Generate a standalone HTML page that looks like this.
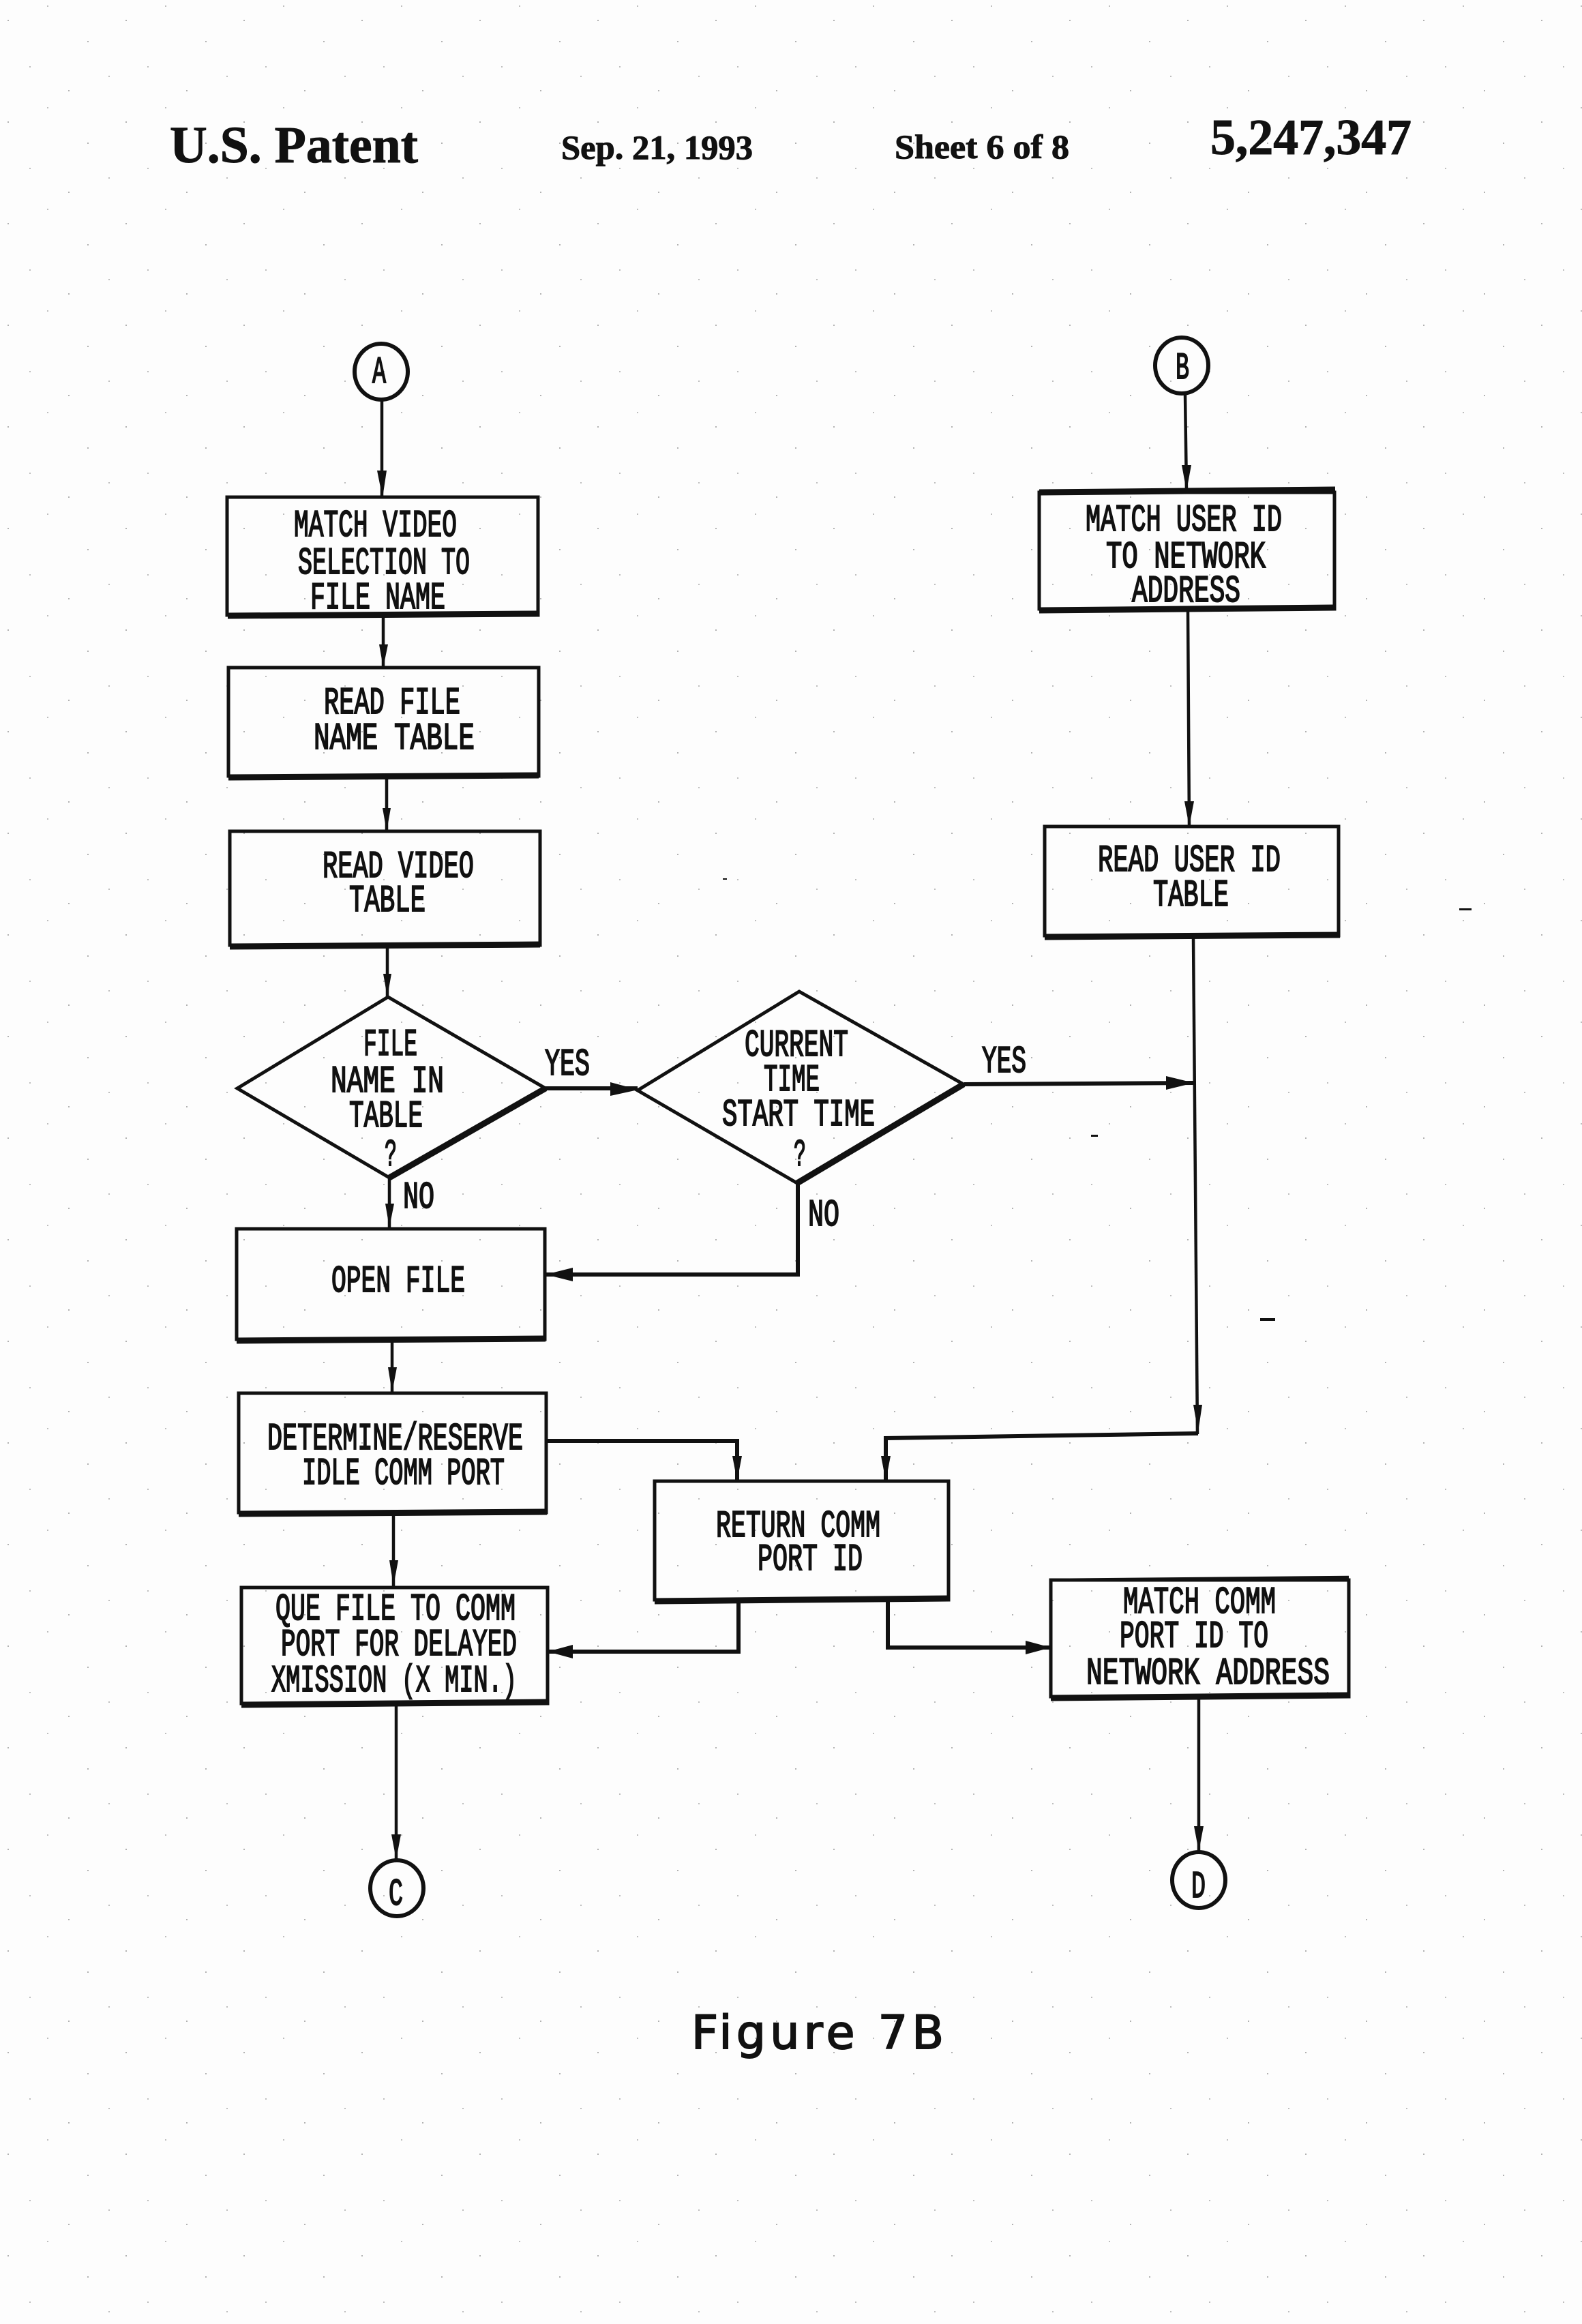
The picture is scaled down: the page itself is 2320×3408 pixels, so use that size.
<!DOCTYPE html>
<html><head><meta charset="utf-8"><style>
html,body{margin:0;padding:0;background:#fdfdfd}
svg{display:block}
.t{font-family:"Liberation Mono",monospace;font-size:56px;fill:#111;stroke:#111;stroke-width:2}
.s{font-family:"Liberation Serif",serif;font-weight:bold;fill:#111;stroke:#111;stroke-width:1}
.b{fill:none;stroke:#111;stroke-width:5}
.u{stroke:#111;stroke-width:9;fill:none}
.l{fill:none;stroke:#111;stroke-width:4.5}
.m{fill:none;stroke:#111;stroke-width:6}
.a{fill:#111}
</style></head><body>
<svg xmlns="http://www.w3.org/2000/svg" width="2320" height="3408" viewBox="0 0 2320 3408">
<defs><pattern id="n" width="173" height="149" patternUnits="userSpaceOnUse">
<circle cx="12" cy="30" r="1" fill="#999"/><circle cx="70" cy="9" r="1" fill="#aaa"/><circle cx="129" cy="61" r="1" fill="#999"/><circle cx="44" cy="98" r="1" fill="#aaa"/><circle cx="101" cy="133" r="1" fill="#999"/><circle cx="160" cy="112" r="1" fill="#aaa"/>
</pattern></defs>
<rect width="2320" height="3408" fill="#fdfdfd"/>
<rect width="2320" height="3408" fill="url(#n)"/>

<!-- header -->
<text class="s" x="249" y="238" font-size="76" textLength="364" lengthAdjust="spacingAndGlyphs">U.S. Patent</text>
<text class="s" x="823" y="233" font-size="50" textLength="281" lengthAdjust="spacingAndGlyphs">Sep. 21, 1993</text>
<text class="s" x="1312" y="232" font-size="50" textLength="256" lengthAdjust="spacingAndGlyphs">Sheet 6 of 8</text>
<text class="s" x="1775" y="226" font-size="74" textLength="295" lengthAdjust="spacingAndGlyphs">5,247,347</text>

<!-- connectors -->
<path class="l" d="M560 587V729M1738 578L1740 720M562 904V979M567 1140V1219M568 1388V1462M571 1727V1800M575 1964V2042M577 2219V2326M581 2499V2727M1758 2491V2715M1742 895L1744 1212"/>
<path class="l" d="M1750 1375L1756 2103"/>
<path class="m" d="M1757 2102L1299 2109V2172M802 2113H1081V2172"/>
<path class="m" d="M800 1596H935M1414 1590L1750 1588M1170 1735V1869H800"/>
<path class="m" d="M1083 2347V2422H803M1302 2347V2416H1541"/>

<!-- arrowheads -->
<g class="a">
<polygon points="553,690 567,690 561,730"/>
<polygon points="1733,682 1747,682 1740,720"/>
<polygon points="556,945 569,945 562,979"/>
<polygon points="561,1185 573,1185 567,1219"/>
<polygon points="562,1428 574,1428 568,1462"/>
<polygon points="565,1765 578,1765 571,1800"/>
<polygon points="569,2005 582,2005 575,2042"/>
<polygon points="571,2288 584,2288 577,2326"/>
<polygon points="574,2690 588,2690 581,2727"/>
<polygon points="1751,2678 1765,2678 1758,2715"/>
<polygon points="1737,1175 1751,1175 1744,1212"/>
<polygon points="1074,2135 1088,2135 1081,2172"/>
<polygon points="1292,2135 1306,2135 1299,2172"/>
<polygon points="1750,2060 1763,2060 1757,2100"/>
<polygon points="895,1587 895,1607 936,1598"/>
<polygon points="1710,1578 1710,1598 1751,1588"/>
<polygon points="800,1869 840,1859 840,1879"/>
<polygon points="803,2422 840,2412 840,2432"/>
<polygon points="1541,2416 1504,2406 1504,2426"/>
</g>

<!-- boxes -->
<rect class="b" x="333" y="729" width="456" height="173"/><path class="u" d="M334 903L789 900"/>
<rect class="b" x="335" y="979" width="455" height="159"/><path class="u" d="M335 1140L790 1137"/>
<rect class="b" x="337" y="1219" width="455" height="167"/><path class="u" d="M337 1388L792 1385"/>
<rect class="b" x="1524" y="722" width="433" height="171"/><path class="u" d="M1524 895L1958 891"/><path class="u" d="M1524 722L1958 718"/>
<rect class="b" x="1532" y="1212" width="431" height="160"/><path class="u" d="M1532 1374L1965 1371"/>
<rect class="b" x="347" y="1802" width="452" height="162"/><path class="u" d="M347 1966L800 1963"/>
<rect class="b" x="350" y="2043" width="451" height="175"/><path class="u" d="M350 2220L802 2217"/>
<rect class="b" x="960" y="2172" width="431" height="174"/><path class="u" d="M960 2348L1392 2344"/>
<rect class="b" x="354" y="2328" width="449" height="170"/><path class="u" d="M354 2500L804 2496"/>
<rect class="b" x="1541" y="2317" width="437" height="171"/><path class="u" d="M1541 2490L1978 2486"/><path class="l" d="M1541 2317L1978 2313"/>

<!-- diamonds -->
<polygon class="b" points="348,1596 569,1462 800,1596 571,1727"/>
<path class="u" d="M800 1596L571 1727"/>
<polygon class="b" points="935,1599 1172,1454 1413,1590 1169,1735"/>
<path class="u" d="M1413 1590L1169 1735"/>

<!-- connector circles -->
<g fill="none" stroke="#111" stroke-width="6">
<ellipse cx="559" cy="545" rx="39" ry="41"/>
<ellipse cx="1733" cy="536" rx="39" ry="41"/>
<ellipse cx="582" cy="2769" rx="39" ry="41"/>
<ellipse cx="1758" cy="2757" rx="39" ry="41"/>
</g>

<!-- labels -->
<text class="t" x="546" y="561" textLength="20" lengthAdjust="spacingAndGlyphs">A</text>
<text class="t" x="1724" y="555" textLength="20" lengthAdjust="spacingAndGlyphs">B</text>
<text class="t" x="570" y="2793" textLength="21" lengthAdjust="spacingAndGlyphs">C</text>
<text class="t" x="1747" y="2782" textLength="21" lengthAdjust="spacingAndGlyphs">D</text>

<text class="t" x="431" y="786" textLength="239" lengthAdjust="spacingAndGlyphs">MATCH VIDEO</text>
<text class="t" x="437" y="841" textLength="252" lengthAdjust="spacingAndGlyphs">SELECTION TO</text>
<text class="t" x="455" y="892" textLength="198" lengthAdjust="spacingAndGlyphs">FILE NAME</text>
<text class="t" x="475" y="1046" textLength="200" lengthAdjust="spacingAndGlyphs">READ FILE</text>
<text class="t" x="460" y="1098" textLength="236" lengthAdjust="spacingAndGlyphs">NAME TABLE</text>
<text class="t" x="473" y="1286" textLength="222" lengthAdjust="spacingAndGlyphs">READ VIDEO</text>
<text class="t" x="512" y="1336" textLength="112" lengthAdjust="spacingAndGlyphs">TABLE</text>
<text class="t" x="1592" y="778" textLength="288" lengthAdjust="spacingAndGlyphs">MATCH USER ID</text>
<text class="t" x="1622" y="832" textLength="234" lengthAdjust="spacingAndGlyphs">TO NETWORK</text>
<text class="t" x="1660" y="882" textLength="159" lengthAdjust="spacingAndGlyphs">ADDRESS</text>
<text class="t" x="1610" y="1277" textLength="268" lengthAdjust="spacingAndGlyphs">READ USER ID</text>
<text class="t" x="1691" y="1328" textLength="111" lengthAdjust="spacingAndGlyphs">TABLE</text>
<text class="t" x="533" y="1547" textLength="79" lengthAdjust="spacingAndGlyphs">FILE</text>
<text class="t" x="485" y="1601" textLength="166" lengthAdjust="spacingAndGlyphs">NAME IN</text>
<text class="t" x="512" y="1652" textLength="108" lengthAdjust="spacingAndGlyphs">TABLE</text>
<text class="t" x="564" y="1709" textLength="18" lengthAdjust="spacingAndGlyphs">?</text>
<text class="t" x="1092" y="1548" textLength="152" lengthAdjust="spacingAndGlyphs">CURRENT</text>
<text class="t" x="1120" y="1599" textLength="82" lengthAdjust="spacingAndGlyphs">TIME</text>
<text class="t" x="1059" y="1650" textLength="224" lengthAdjust="spacingAndGlyphs">START TIME</text>
<text class="t" x="1164" y="1709" textLength="18" lengthAdjust="spacingAndGlyphs">?</text>
<text class="t" x="799" y="1576" textLength="66" lengthAdjust="spacingAndGlyphs">YES</text>
<text class="t" x="1440" y="1572" textLength="65" lengthAdjust="spacingAndGlyphs">YES</text>
<text class="t" x="591" y="1771" textLength="46" lengthAdjust="spacingAndGlyphs">NO</text>
<text class="t" x="1185" y="1797" textLength="46" lengthAdjust="spacingAndGlyphs">NO</text>
<text class="t" x="486" y="1894" textLength="196" lengthAdjust="spacingAndGlyphs">OPEN FILE</text>
<text class="t" x="392" y="2125" textLength="375" lengthAdjust="spacingAndGlyphs">DETERMINE/RESERVE</text>
<text class="t" x="443" y="2176" textLength="297" lengthAdjust="spacingAndGlyphs">IDLE COMM PORT</text>
<text class="t" x="1050" y="2253" textLength="241" lengthAdjust="spacingAndGlyphs">RETURN COMM</text>
<text class="t" x="1111" y="2302" textLength="154" lengthAdjust="spacingAndGlyphs">PORT ID</text>
<text class="t" x="404" y="2375" textLength="352" lengthAdjust="spacingAndGlyphs">QUE FILE TO COMM</text>
<text class="t" x="412" y="2427" textLength="346" lengthAdjust="spacingAndGlyphs">PORT FOR DELAYED</text>
<text class="t" x="398" y="2480" textLength="360" lengthAdjust="spacingAndGlyphs">XMISSION (X MIN.)</text>
<text class="t" x="1647" y="2365" textLength="224" lengthAdjust="spacingAndGlyphs">MATCH COMM</text>
<text class="t" x="1642" y="2415" textLength="218" lengthAdjust="spacingAndGlyphs">PORT ID TO</text>
<text class="t" x="1593" y="2469" textLength="357" lengthAdjust="spacingAndGlyphs">NETWORK ADDRESS</text>

<text x="1014" y="3004" font-family="'DejaVu Sans',sans-serif" font-size="68" fill="#111" stroke="#111" stroke-width="2" textLength="370" lengthAdjust="spacing">Figure 7B</text>

<!-- stray marks -->
<g fill="#111">
<rect x="2140" y="1332" width="18" height="3"/>
<rect x="1848" y="1933" width="22" height="4"/>
<rect x="1600" y="1664" width="10" height="3"/>
<rect x="1060" y="1288" width="6" height="2"/>
</g>
</svg>
</body></html>
